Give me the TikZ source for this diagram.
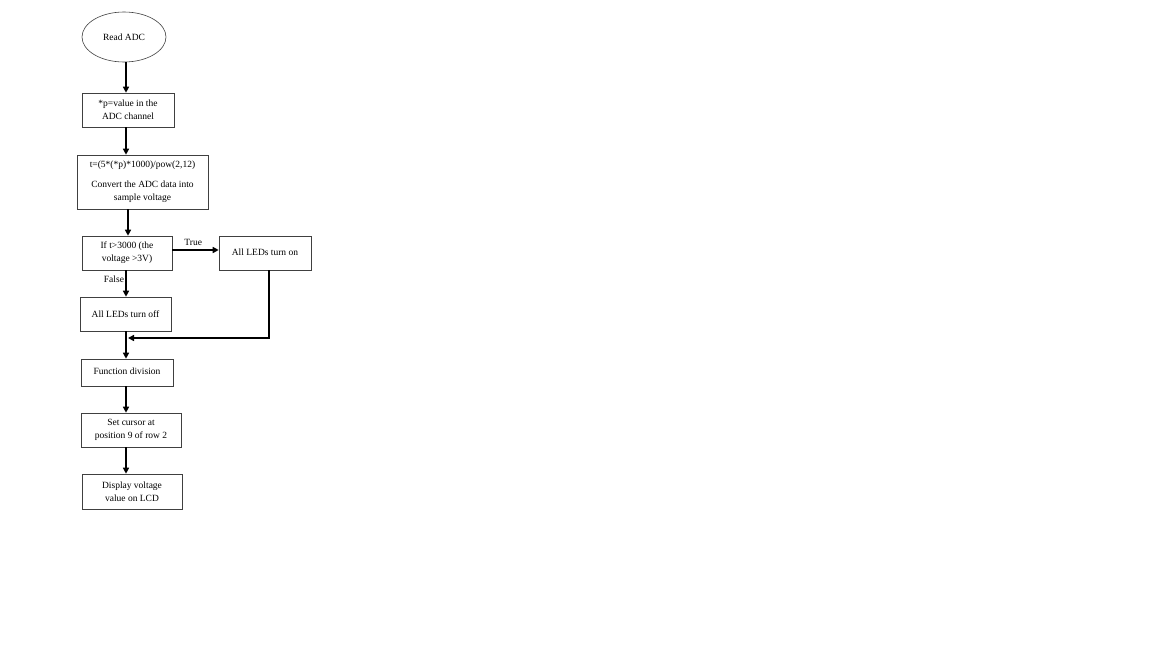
\documentclass[tikz,border=0pt]{standalone}
\usepackage{fontspec}
\setmainfont{Liberation Serif}
\usetikzlibrary{arrows.meta,shapes.geometric}
\begin{document}
\begin{tikzpicture}[x=1pt,y=-1pt,
  every node/.style={font=\fontsize{9.5}{13}\selectfont, inner sep=1pt},
  procbox/.style={draw=black!75, line width=0.6pt, rectangle, align=center, minimum width=#1},
  flow/.style={line width=2pt, -{Triangle[length=6pt,width=6pt]}},
  lbl/.style={font=\fontsize{9.5}{11}\selectfont}]
\useasboundingbox (0,0) rectangle (1152,648);
\node[draw=black!75, line width=0.6pt, ellipse, minimum width=84pt, minimum height=50pt] (ell) at (124,37) {Read ADC};
\node[procbox=92pt, minimum height=34pt] (b1) at (128,110) {*p=value in the\\ADC channel};
\node[procbox=131pt, minimum height=54pt] (b2) at (142.5,182) {t=(5*(*p)*1000)/pow(2,12)\\[7pt]Convert the ADC data into\\sample voltage};
\node[procbox=90pt, minimum height=34pt] (b3) at (127,253) {If t>3000 (the\\voltage >3V)};
\node[procbox=92pt, minimum height=34pt] (b4) at (265,253) {\raisebox{2pt}{All LEDs turn on}};
\node[procbox=91pt, minimum height=34pt] (b5) at (125.5,314) {All LEDs turn off};
\node[procbox=92pt, minimum height=27pt] (b6) at (127,372.5) {\raisebox{2.5pt}{Function division}};
\node[procbox=100pt, minimum height=34pt] (b7) at (131,430) {Set cursor at\\position 9 of row 2};
\node[procbox=100pt, minimum height=35pt] (b8) at (132,491.5) {Display voltage\\value on LCD};
\coordinate (sp) at (126,0);
\coordinate (sq) at (128,0);
\coordinate (mj) at (128,338);
\coordinate (rc) at (269,338);
\draw[flow] (sp |- ell.south) -- (sp |- b1.north);
\draw[flow] (sp |- b1.south) -- (sp |- b2.north);
\draw[flow] (sq |- b2.south) -- (sq |- b3.north);
\draw[flow] (b3.east |- 0,250) -- (b4.west |- 0,250) node[lbl, pos=0.45, above=2pt] {True};
\draw[flow] (sp |- b3.south) -- (sp |- b5.north) node[lbl, pos=0.35, left=0pt] {False};
\draw[flow] (rc |- b4.south) -- (rc) -- (mj);
\draw[flow] (sp |- b5.south) -- (sp |- b6.north);
\draw[flow] (sp |- b6.south) -- (sp |- b7.north);
\draw[flow] (sp |- b7.south) -- (sp |- b8.north);
\end{tikzpicture}
\end{document}
